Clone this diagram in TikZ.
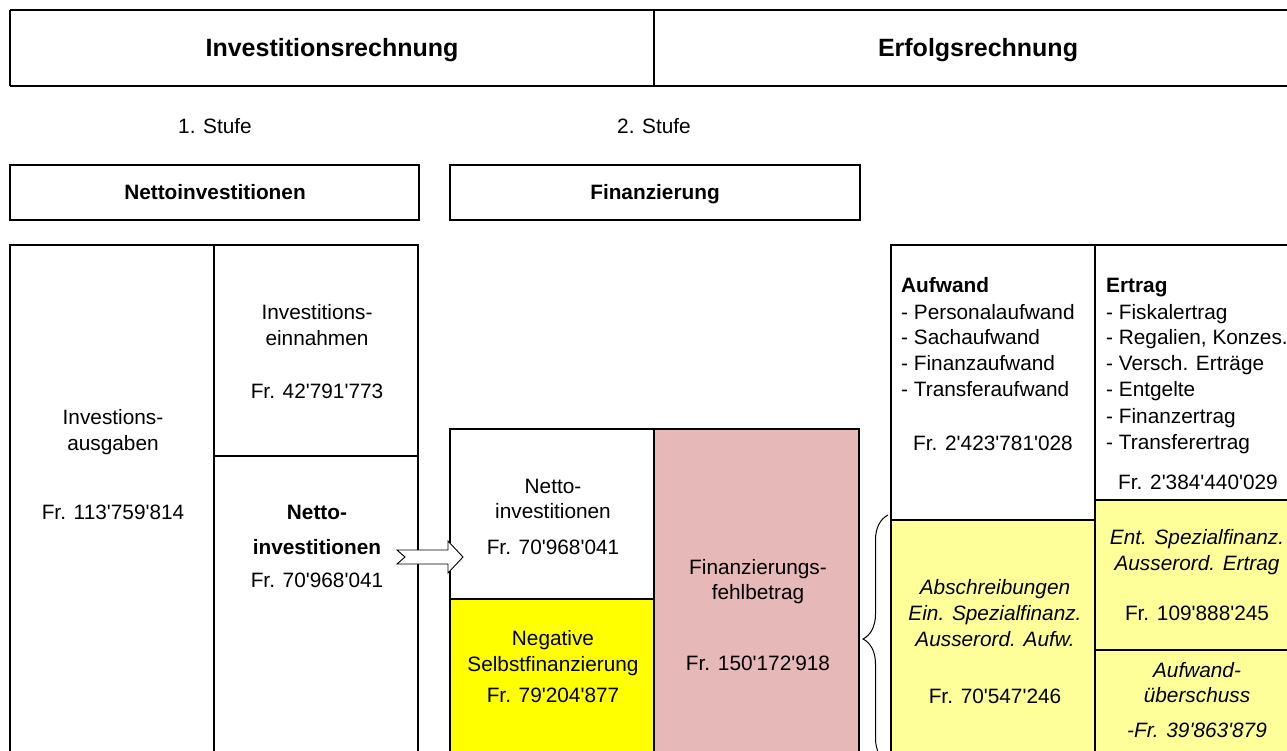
\documentclass[tikz,border=0pt]{standalone}
\usepackage{fontspec}
\setmainfont{Liberation Sans}[Ligatures=TeXOff]
\usetikzlibrary{decorations.pathreplacing}
\definecolor{pinkcell}{RGB}{230,184,183}
\definecolor{ylwcell}{RGB}{255,255,0}
\definecolor{lightylw}{RGB}{255,255,153}
\begin{document}
\begin{tikzpicture}[x=1pt,y=-1pt,
  txt/.style={inner sep=0pt,anchor=base,font=\fontsize{20.8}{25}\selectfont},
  txtl/.style={txt,anchor=base west},
  bt/.style={txt,font=\fontsize{20.8}{25}\selectfont\bfseries},
  btl/.style={bt,anchor=base west},
  it/.style={txt,font=\fontsize{20.8}{25}\selectfont\itshape},
  head/.style={txt,font=\fontsize{25}{30}\selectfont\bfseries},
  thickline/.style={line width=2.8pt},
  thinline/.style={line width=1.2pt},
  arrowshape/.style={draw=black,fill=white,line width=0.9pt,line join=miter}]
\useasboundingbox (0,0) rectangle (1287,751);
\clip (0,0) rectangle (1287,751);

% header
\draw[thickline] (10,10) -- (1300,10);
\draw[thickline] (10,86) -- (1300,86);
\draw[thinline] (10,10) -- (10,86);
\draw[thinline] (654,10) -- (654,86);
\node[head] (hInv) at (332,57) {Investitionsrechnung};
\node[head] (hErf) at (978,57) {Erfolgsrechnung};

% Stufen
\node[txt] (st1) at (215,134) {1. Stufe};
\node[txt] (st2) at (654,134) {2. Stufe};

% label boxes
\draw[thickline] (10,165) rectangle (419,220);
\draw[thickline] (450,165) rectangle (860,220);
\node[bt] (lNetto) at (215,200) {Nettoinvestitionen};
\node[bt] (lFin) at (655,200) {Finanzierung};

% left block
\draw[thinline] (214,245) -- (214,770);
\draw[thickline] (214,456) -- (418,456);
\draw[thickline] (10,770) -- (10,245) -- (418,245) -- (418,770);
\node[txt] (ie1) at (317,319) {Investitions-};
\node[txt] (ie2) at (317,345) {einnahmen};
\node[txt] (ie3) at (317,398) {Fr. 42'791'773};
\node[txt] (ia1) at (113,424) {Investions-};
\node[txt] (ia2) at (113,450) {ausgaben};
\node[txt] (ia3) at (113,519) {Fr. 113'759'814};
\node[bt] (ni1) at (317,519) {Netto-};
\node[bt] (ni2) at (317,554) {investitionen};
\node[txt] (ni3) at (317,587) {Fr. 70'968'041};

% middle block
\fill[ylwcell] (450,599) rectangle (654,770);
\fill[pinkcell] (654,429) rectangle (859,770);
\draw[thinline] (654,429) -- (654,770);
\draw[thinline] (450,599) -- (654,599);
\draw[thickline] (450,770) -- (450,429) -- (859,429) -- (859,770);
\node[txt] (mn1) at (553,493) {Netto-};
\node[txt] (mn2) at (553,518) {investitionen};
\node[txt] (mn3) at (553,554) {Fr. 70'968'041};
\node[txt] (ns1) at (553,645) {Negative};
\node[txt] (ns2) at (553,671) {Selbstfinanzierung};
\node[txt] (ns3) at (553,702) {Fr. 79'204'877};
\node[txt] (fb1) at (758,574) {Finanzierungs-};
\node[txt] (fb2) at (758,599) {fehlbetrag};
\node[txt] (fb3) at (758,670) {Fr. 150'172'918};

% right block
\fill[lightylw] (891,520) rectangle (1095,770);
\fill[lightylw] (1095,500) rectangle (1300,770);
\draw[thinline] (1095,245) -- (1095,770);
\draw[thickline] (891,520) -- (1095,520);
\draw[thickline] (1095,500) -- (1300,500);
\draw[line width=2pt] (1095,650) -- (1300,650);
\draw[thickline] (891,770) -- (891,245) -- (1300,245);

\node[btl] (auf0) at (901,292) {Aufwand};
\node[txtl] (auf1) at (901,319) {- Personalaufwand};
\node[txtl] (auf2) at (901,344) {- Sachaufwand};
\node[txtl] (auf3) at (901,370) {- Finanzaufwand};
\node[txtl] (auf4) at (901,396) {- Transferaufwand};
\node[txtl] (auf5) at (913,450) {Fr. 2'423'781'028};

\node[btl] (ert0) at (1106,292) {Ertrag};
\node[txtl] (ert1) at (1106,319) {- Fiskalertrag};
\node[txtl] (ert2) at (1106,344) {- Regalien, Konzes.};
\node[txtl] (ert3) at (1106,370) {- Versch. Ertr\"age};
\node[txtl] (ert4) at (1106,396) {- Entgelte};
\node[txtl] (ert5) at (1106,423) {- Finanzertrag};
\node[txtl] (ert6) at (1106,449) {- Transferertrag};
\node[txtl] (ert7) at (1118,489) {Fr. 2'384'440'029};

\node[it] (ab1) at (995,594) {Abschreibungen};
\node[it] (ab2) at (995,620) {Ein. Spezialfinanz.};
\node[it] (ab3) at (995,646) {Ausserord. Aufw.};
\node[txt] (ab4) at (995,703) {Fr. 70'547'246};

\node[it] (es1) at (1197,544) {Ent. Spezialfinanz.};
\node[it] (es2) at (1197,570) {Ausserord. Ertrag};
\node[txt] (es3) at (1197,620) {Fr. 109'888'245};

\node[it] (au1) at (1197,677) {Aufwand-};
\node[it] (au2) at (1197,702) {\"uberschuss};
\node[it] (au3) at (1197,737) {-Fr. 39'863'879};

% brace
\coordinate (braceBot) at (888,763);
\coordinate (braceTop) at (888,515);
\draw[line width=1pt,decorate,decoration={brace,amplitude=25pt}] (braceBot) -- (braceTop);

% arrow from Nettoinvestitionen (left) to Nettoinvestitionen (middle)
\coordinate (arT) at (397,557);
\draw[arrowshape] (arT) ++(0,-7) -- ++(51,0) -- ++(0,-9) -- ++(15,16) -- ++(-15,16) -- ++(0,-9) -- ++(-51,0) -- ++(8,-7) -- cycle;
\end{tikzpicture}
\end{document}
